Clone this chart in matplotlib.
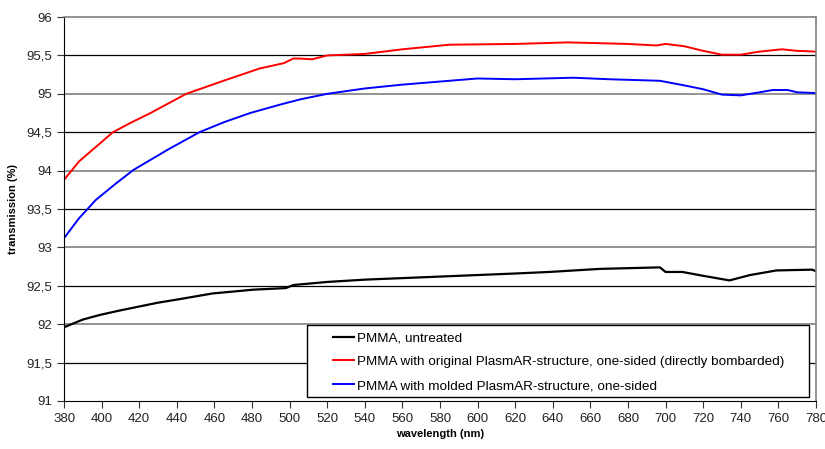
import matplotlib.pyplot as plt
from matplotlib.patches import Rectangle
from matplotlib.ticker import FuncFormatter

plt.rcParams["font.family"] = ["Liberation Sans", "DejaVu Sans"]

# values
wl_black = [380, 390, 399, 410, 420, 430, 440, 459, 481, 498, 502, 520, 540, 560, 580, 600, 620,
            638, 665, 697, 700, 709, 720, 734, 745, 759, 778, 780]
t_black = [91.96, 92.06, 92.12, 92.18, 92.23, 92.28, 92.32, 92.40, 92.45, 92.47, 92.51, 92.55, 92.58,
           92.60, 92.62, 92.64, 92.66, 92.68, 92.72, 92.74, 92.68, 92.68, 92.63, 92.57, 92.64, 92.70,
           92.71, 92.69]

wl_red = [380, 388, 397, 406, 416, 426, 445, 466, 484, 497, 502, 505, 512, 520, 540, 560, 585,
          620, 648, 680, 695, 700, 710, 720, 730, 740, 750, 762, 770, 780]
t_red = [93.88, 94.12, 94.31, 94.50, 94.63, 94.75, 95.00, 95.18, 95.33, 95.40, 95.46, 95.46, 95.45,
         95.50, 95.52, 95.58, 95.64, 95.65, 95.67, 95.65, 95.63, 95.65, 95.62, 95.56, 95.51, 95.51,
         95.55, 95.58, 95.56, 95.55]

wl_blue = [380, 388, 397, 408, 417, 435, 452, 465, 479, 495, 506, 520, 540, 560, 580, 600, 620,
           651, 670, 697, 710, 720, 730, 740, 750, 757, 765, 770, 780]
t_blue = [93.12, 93.38, 93.62, 93.84, 94.01, 94.27, 94.50, 94.63, 94.75, 94.86, 94.93, 95.00, 95.07,
          95.12, 95.16, 95.20, 95.19, 95.21, 95.19, 95.17, 95.11, 95.06, 94.99, 94.98, 95.02, 95.05,
          95.05, 95.02, 95.01]

labels = ["PMMA, untreated",
          "PMMA with original PlasmAR-structure, one-sided (directly bombarded)",
          "PMMA with molded PlasmAR-structure, one-sided"]

fig = plt.figure(figsize=(8.25, 4.49), dpi=100)
ax = fig.add_axes([0.0776, 0.107, 0.9114, 0.855])

# gridlines: gray on whole numbers, black on halves
for v in [92, 93, 94, 95]:
    ax.axhline(v, color="#808080", lw=1.2, zorder=0)
for v in [91.5, 92.5, 93.5, 94.5, 95.5]:
    ax.axhline(v, color="black", lw=0.9, zorder=0)

ax.plot(wl_black, t_black, color="black", lw=1.6, label=labels[0])
ax.plot(wl_red, t_red, color="#ff0000", lw=1.4, label=labels[1])
ax.plot(wl_blue, t_blue, color="#0000ff", lw=1.4, label=labels[2])

ax.set_xlim(380, 780)
ax.set_ylim(91, 96)
ax.set_xticks(range(380, 781, 20))
ax.set_yticks([91 + 0.5 * i for i in range(11)])
ax.yaxis.set_major_formatter(FuncFormatter(lambda v, p: f"{v:g}".replace(".", ",")))
ax.tick_params(direction="out", length=5, labelsize=9.5, colors="#333333", labelcolor="#222222")

for s in ["top", "right"]:
    ax.spines[s].set_color("#808080")
    ax.spines[s].set_linewidth(1.2)
for s in ["left", "bottom"]:
    ax.spines[s].set_color("black")

ax.set_xlabel("wavelength (nm)", fontsize=8, fontweight="bold", labelpad=3)
ax.set_ylabel("transmission (%)", fontsize=8, fontweight="bold", labelpad=6)

# legend box drawn separately, legend entries placed inside it
ax.add_patch(Rectangle((0.323, 0.0104), 0.668, 0.188, transform=ax.transAxes,
                       facecolor="white", edgecolor="black", lw=1.0, zorder=4))
leg = ax.legend(loc="upper left", bbox_to_anchor=(0.3577, 0.180), borderaxespad=0,
                fontsize=9.7, frameon=False, handlelength=1.55, handletextpad=0.2,
                borderpad=0, labelspacing=0.85)
leg.set_zorder(5)

fig.savefig("out.png", dpi=100)
